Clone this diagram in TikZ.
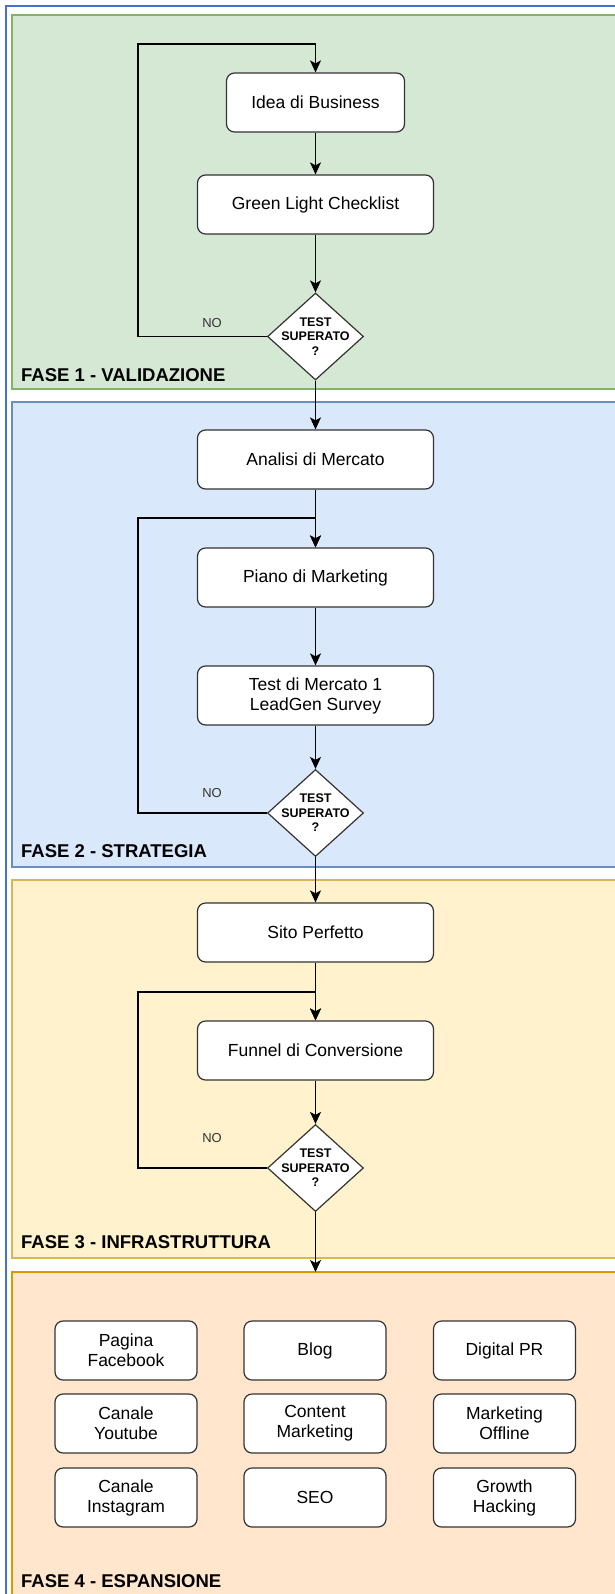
\documentclass[tikz,border=0pt]{standalone}
\usepackage{fontspec}
\setmainfont{Liberation Sans}
\usepackage{tikz}
\usetikzlibrary{shapes.geometric, arrows.meta, positioning}
\definecolor{frameblue}{RGB}{68, 114, 196}
\definecolor{valfill}{HTML}{D5E8D4}
\definecolor{valline}{HTML}{82B366}
\definecolor{strfill}{HTML}{DAE8FC}
\definecolor{strline}{HTML}{6C8EBF}
\definecolor{infill}{HTML}{FFF2CC}
\definecolor{inline}{HTML}{D6B656}
\definecolor{espfill}{HTML}{FFE6CC}
\definecolor{espline}{HTML}{D79B00}
\definecolor{boxgray}{HTML}{333333}

\begin{document}
\begin{tikzpicture}[x=1pt, y=-1pt,
  stepbox/.style={draw=boxgray, fill=white, rounded corners=8pt, line width=1.2pt, minimum width=236pt, minimum height=59pt, align=center, inner sep=2pt, font=\fontsize{17.5}{20}\selectfont},
  channelbox/.style={stepbox, minimum width=142pt},
  decision/.style={diamond, draw=boxgray, fill=white, line width=1.2pt, minimum width=96pt, minimum height=87pt, inner sep=0pt},
  decisiontext/.style={align=center, inner sep=0pt, font=\fontsize{12.5}{14.5}\selectfont\bfseries},
  phaselabel/.style={anchor=west, inner sep=0pt, font=\fontsize{18.5}{20}\selectfont\bfseries},
  nolabel/.style={inner sep=0pt, text=boxgray, font=\fontsize{13}{15}\selectfont},
  panel/.style={line width=1.2pt},
  arr/.style={-{Stealth[length=12pt, width=11pt, inset=3pt]}, line width=1.2pt}
]
  \useasboundingbox (0,0) rectangle (615,1594);
  \clip (0,0) rectangle (615,1594);
  \fill[white] (0,0) rectangle (615,1594);

  % phases
  \draw[frameblue, line width=2pt] (6,6) rectangle (660,1660);
  \draw[panel, draw=valline, fill=valfill] (12,15) rectangle (650,389);
  \draw[panel, draw=strline, fill=strfill] (12,402) rectangle (650,867);
  \draw[panel, draw=inline, fill=infill] (12,880) rectangle (650,1258);
  \draw[panel, draw=espline, fill=espfill] (12,1272) rectangle (650,1650);

  \node[phaselabel] (fase1) at (21,375.5) {FASE 1 - VALIDAZIONE};
  \node[phaselabel] (fase2) at (21,851) {FASE 2 - STRATEGIA};
  \node[phaselabel] (fase3) at (21,1242) {FASE 3 - INFRASTRUTTURA};
  \node[phaselabel] (fase4) at (21,1581) {FASE 4 - ESPANSIONE};

  % fase 1
  \node[stepbox, minimum width=178pt] (idea) at (315.5,102.5) {Idea di Business};
  \node[stepbox] (greenlight) at (315.5,204.5) {Green Light Checklist};
  \node[decision, label={[decisiontext]center:{TEST\\SUPERATO\\?}}] (test1) at (315.5,336.5) {};
  \node[nolabel] (no1) at (212,323) {NO};
  \coordinate (loop1) at (138,44);

  \draw[arr] (idea) -- (greenlight);
  \draw[arr] (greenlight) -- (test1);
  \draw[arr] (test1.west) -| (loop1) -| (idea.north);

  % fase 2
  \node[stepbox] (analisi) at (315.5,459.5) {Analisi di Mercato};
  \node[stepbox] (piano) at (315.5,577.5) {Piano di Marketing};
  \node[stepbox] (testmercato) at (315.5,695.5) {Test di Mercato 1\\LeadGen Survey};
  \node[decision, label={[decisiontext]center:{TEST\\SUPERATO\\?}}] (test2) at (315.5,813) {};
  \node[nolabel] (no2) at (212,793) {NO};
  \coordinate (loop2) at (138,518);

  \draw[arr] (test1) -- (analisi);
  \draw[arr] (analisi) -- (piano);
  \draw[arr] (piano) -- (testmercato);
  \draw[arr] (testmercato) -- (test2);
  \draw[arr] (test2.west) -| (loop2) -| (piano.north);

  % fase 3
  \node[stepbox] (sito) at (315.5,932.5) {Sito Perfetto};
  \node[stepbox] (funnel) at (315.5,1050.5) {Funnel di Conversione};
  \node[decision, label={[decisiontext]center:{TEST\\SUPERATO\\?}}] (test3) at (315.5,1168) {};
  \node[nolabel] (no3) at (212,1138) {NO};
  \coordinate (loop3) at (138,992);
  \coordinate (fase4top) at (315.5,1272);

  \draw[arr] (test2) -- (sito);
  \draw[arr] (sito) -- (funnel);
  \draw[arr] (funnel) -- (test3);
  \draw[arr] (test3.west) -| (loop3) -| (funnel.north);
  \draw[arr] (test3) -- (fase4top);

  % fase 4
  \node[channelbox] (facebook) at (126,1350.5) {Pagina\\Facebook};
  \node[channelbox] (blog) at (315,1350.5) {Blog};
  \node[channelbox] (digitalpr) at (504.5,1350.5) {Digital PR};
  \node[channelbox] (youtube) at (126,1423.5) {Canale\\Youtube};
  \node[channelbox] (content) at (315,1423.5) {Content\\Marketing};
  \node[channelbox] (offline) at (504.5,1423.5) {Marketing\\Offline};
  \node[channelbox] (instagram) at (126,1497.5) {Canale\\Instagram};
  \node[channelbox] (seo) at (315,1497.5) {SEO};
  \node[channelbox] (growth) at (504.5,1497.5) {Growth\\Hacking};
\end{tikzpicture}
\end{document}
